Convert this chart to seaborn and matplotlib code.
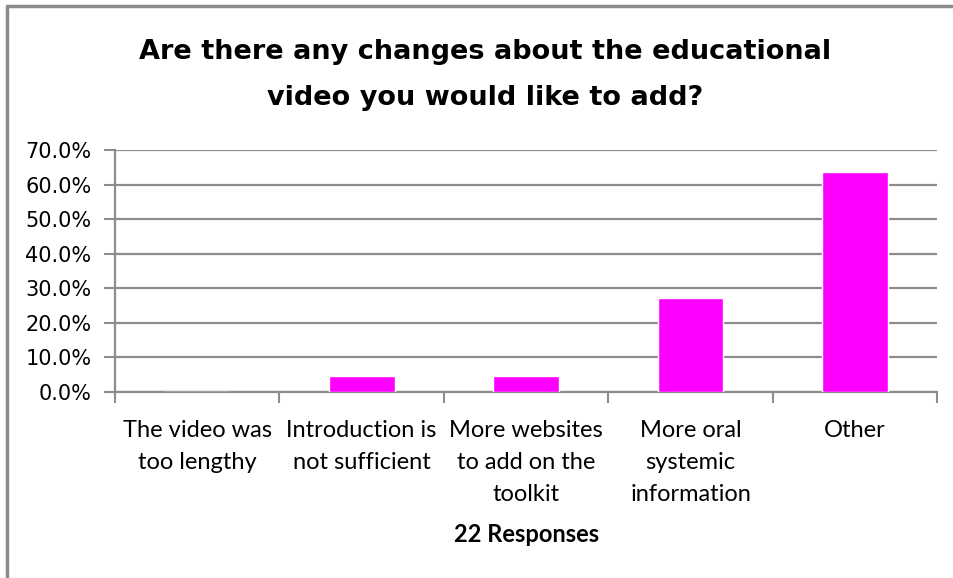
import numpy as np
import pandas as pd
import matplotlib.pyplot as plt
import matplotlib.ticker as mticker
from matplotlib.lines import Line2D
import seaborn as sns

categories = ["The video was\ntoo lengthy", "Introduction is\nnot sufficient",
              "More websites\nto add on the\ntoolkit", "More oral\nsystemic\ninformation", "Other"]
percent = [0.0, 4.55, 4.55, 27.27, 63.64]
title = "Are there any changes about the educational\nvideo you would like to add?"
xlabel = "22 Responses"

df = pd.DataFrame({"answer": categories, "pct": percent})

sns.set_theme(style="white")
plt.rcParams['font.family'] = ['DejaVu Sans']

fig = plt.figure(figsize=(9.54, 5.78), dpi=100)
ax = fig.add_axes([0.1205, 0.3218, 0.862, 0.4187])

sns.barplot(data=df, x="answer", y="pct", color="#FF00FF", saturation=1,
            width=0.4, ax=ax, zorder=3)

grey = "#8c8c8c"
ax.set_ylim(0, 70)
ax.set_xlim(-0.5, len(categories) - 0.5)
ax.yaxis.set_major_locator(mticker.MultipleLocator(10))
ax.yaxis.set_major_formatter(mticker.FuncFormatter(lambda v, p: f"{v:.1f}%"))
ax.grid(axis="y", color=grey, linewidth=1.6, zorder=0)
ax.set_axisbelow(True)

# ticks at category boundaries, labels centred on the bars
ax.set_xticks(np.arange(-0.5, len(categories), 1.0))
ax.set_xticklabels([])
ax.set_xticks(np.arange(len(categories)), minor=True)
ax.set_xticklabels(categories, minor=True, fontfamily="Lato", fontsize=17,
                   linespacing=1.65, va="top")
ax.tick_params(axis="x", which="major", direction="out", length=8, width=1.5,
               color=grey, bottom=True)
ax.tick_params(axis="x", which="minor", length=0, pad=20, colors="#000000")
ax.tick_params(axis="y", direction="out", length=8, width=1.5, color=grey,
               left=True, labelsize=15, labelcolor="#000000", pad=9)

for side in ["top", "right"]:
    ax.spines[side].set_visible(False)
for side in ["left", "bottom"]:
    ax.spines[side].set_color(grey)
    ax.spines[side].set_linewidth(1.6)

ax.set_ylabel("")
ax.set_xlabel(xlabel, fontfamily="Lato", fontweight="bold", fontsize=17,
              color="#000000", labelpad=13)

fig.text(0.508, 0.933, title, ha="center", va="top", fontsize=19.5,
         fontweight="bold", color="#000000", linespacing=2.0)

# chart frame (top and left edges visible)
fig.add_artist(Line2D([0.0073, 1.0], [0.9896, 0.9896], color=grey, linewidth=2.5,
                      transform=fig.transFigure))
fig.add_artist(Line2D([0.0073, 0.0073], [0.0, 0.9896], color=grey, linewidth=2.5,
                      transform=fig.transFigure))

fig.savefig("out.png", dpi=100)
